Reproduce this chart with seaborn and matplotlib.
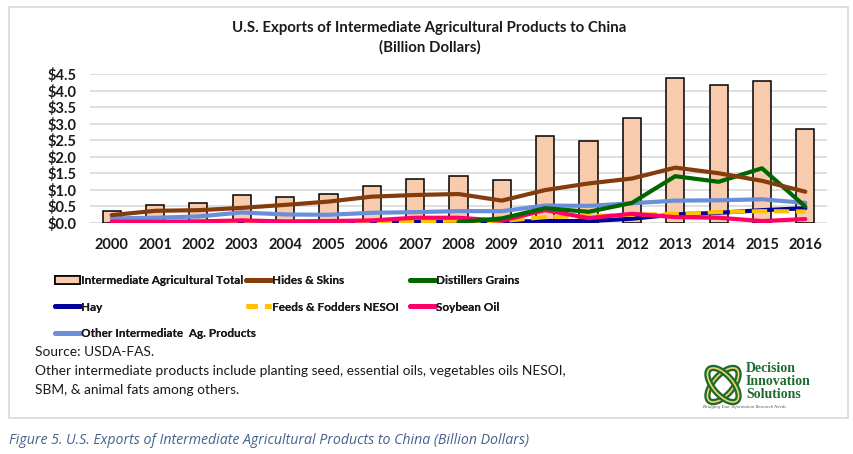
import matplotlib
matplotlib.use("Agg")
import matplotlib.pyplot as plt
import numpy as np
import pandas as pd
import seaborn as sns
from matplotlib.lines import Line2D
from matplotlib.patches import Patch, Rectangle, Ellipse

years = [str(y) for y in range(2000, 2017)]

ag_total = [0.36, 0.55, 0.59, 0.83, 0.78, 0.87, 1.12, 1.33, 1.41, 1.29,
            2.64, 2.48, 3.17, 4.38, 4.18, 4.29, 2.85]
hides_skins = [0.23, 0.36, 0.38, 0.45, 0.54, 0.64, 0.79, 0.84, 0.87, 0.67,
               0.99, 1.19, 1.34, 1.67, 1.50, 1.27, 0.94]
distillers = [np.nan, np.nan, np.nan, np.nan, np.nan, np.nan, np.nan, np.nan, 0.02, 0.13,
              0.44, 0.33, 0.60, 1.41, 1.24, 1.65, 0.49]
hay = [0.0, 0.0, 0.0, 0.0, 0.0, 0.0, 0.0, 0.02, 0.03, 0.03,
       0.05, 0.05, 0.12, 0.25, 0.30, 0.38, 0.44]
feeds = [0.01, 0.01, 0.01, 0.02, 0.02, 0.02, 0.03, 0.05, 0.06, 0.05,
         0.17, 0.20, 0.24, 0.27, 0.32, 0.35, 0.34]
soybean_oil = [0.03, 0.03, 0.04, 0.07, 0.04, 0.05, 0.07, 0.15, 0.15, 0.06,
               0.38, 0.14, 0.27, 0.17, 0.15, 0.05, 0.11]
other_inter = [0.13, 0.15, 0.19, 0.31, 0.25, 0.24, 0.30, 0.32, 0.35, 0.35,
               0.52, 0.51, 0.59, 0.67, 0.68, 0.71, 0.60]

y_ticks = [0.0, 0.5, 1.0, 1.5, 2.0, 2.5, 3.0, 3.5, 4.0, 4.5]

series = [
    ("Hides & Skins", hides_skins, "#843C0C", "-"),
    ("Distillers Grains", distillers, "#006600", "-"),
    ("Hay", hay, "#000099", "-"),
    ("Feeds & Fodders NESOI", feeds, "#FFC000", "--"),
    ("Soybean Oil", soybean_oil, "#FF0066", "-"),
    ("Other Intermediate  Ag. Products", other_inter, "#6A8FD8", "-"),
]
# draw order (bottom to top) roughly as in the reference
draw_order = ["Other Intermediate  Ag. Products", "Hay", "Feeds & Fodders NESOI",
              "Soybean Oil", "Distillers Grains", "Hides & Skins"]

sns.set_theme(style="white")
plt.rcParams["font.family"] = ["Lato", "DejaVu Sans"]

fig = plt.figure(figsize=(8.54, 4.54), dpi=100)
ax = fig.add_axes([90 / 854, 1 - 222.7 / 454, 737 / 854, (222.7 - 74.3) / 454])

bars_df = pd.DataFrame({"year": years, "value": ag_total})
sns.barplot(data=bars_df, x="year", y="value", color="#F8CBAD", edgecolor="black",
            linewidth=1.1, width=0.42, saturation=1, ax=ax, zorder=2)

x_pos = np.arange(len(years))
lookup = {s[0]: s for s in series}
for z, name in enumerate(draw_order):
    _, vals, col, ls = lookup[name]
    sns.lineplot(x=x_pos, y=vals, color=col, linestyle=ls, linewidth=3,
                 ax=ax, zorder=3 + z, legend=False)

ax.set_xlim(-0.5, len(years) - 0.5)
ax.set_ylim(0, 4.5)
ax.set_yticks(y_ticks)
ax.set_yticklabels([f"${v:.1f}" for v in y_ticks])
ax.yaxis.grid(True, color="#D9D9D9", linewidth=1.2, zorder=0)
ax.set_axisbelow(True)
for sp in ax.spines.values():
    sp.set_visible(False)
ax.set_xlabel("")
ax.set_ylabel("")
ax.tick_params(axis="y", length=0, pad=10, labelsize=10.5)
ax.tick_params(axis="x", length=0, pad=11, labelsize=10.5)
for lab in ax.get_xticklabels() + ax.get_yticklabels():
    lab.set_fontweight("bold")
    lab.set_color("#1a1a1a")

fig.text(0.503, 1 - 28 / 454, "U.S. Exports of Intermediate Agricultural Products to China",
         ha="center", va="center", fontsize=10.8, fontweight="bold", color="#1a1a1a")
fig.text(0.503, 1 - 47 / 454, "(Billion Dollars)", ha="center", va="center",
         fontsize=10.8, fontweight="bold", color="#1a1a1a")


def handle_for(name):
    _, vals, col, ls = lookup[name]
    if ls == "--":
        return Line2D([], [], color=col, linewidth=3.5, dashes=(2.3, 1.5))
    return Line2D([], [], color=col, linestyle=ls, linewidth=3.5)


bar_handle = Patch(facecolor="#F8CBAD", edgecolor="black", linewidth=1.2)
columns = [
    (55, [(bar_handle, "Intermediate Agricultural Total"), (handle_for("Hay"), "Hay"),
          (handle_for("Other Intermediate  Ag. Products"), "Other Intermediate  Ag. Products")]),
    (246, [(handle_for("Hides & Skins"), "Hides & Skins"),
           (handle_for("Feeds & Fodders NESOI"), "Feeds & Fodders NESOI")]),
    (410, [(handle_for("Distillers Grains"), "Distillers Grains"),
           (handle_for("Soybean Oil"), "Soybean Oil")]),
]
for x0, entries in columns:
    leg = fig.legend([e[0] for e in entries], [e[1] for e in entries],
                     loc="upper left", bbox_to_anchor=(x0 / 854, 1 - 275 / 454),
                     frameon=False, handlelength=2.1, handletextpad=0.12,
                     labelspacing=1.32, borderpad=0, borderaxespad=0,
                     prop={"weight": "bold", "size": 8.5})
    for t in leg.get_texts():
        t.set_color("#1a1a1a")
    fig.add_artist(leg)

notes = ["Source: USDA-FAS.",
         "Other intermediate products include planting seed, essential oils, vegetables oils NESOI,",
         "SBM, & animal fats among others."]
for i, line in enumerate(notes):
    fig.text(35 / 854, 1 - (352 + i * 19) / 454, line, ha="left", va="center",
             fontsize=9.9, color="#1a1a1a")

# outer frame of the chart box
fig.add_artist(Rectangle((9 / 854, 1 - 418 / 454), 839 / 854, 411 / 454,
                         transform=fig.transFigure, fill=False, edgecolor="#D9D9D9",
                         linewidth=1.2))

# simple logo
logo = fig.add_axes([702 / 854, 1 - 408 / 454, 42 / 854, 46 / 454])
logo.set_xlim(0, 1)
logo.set_ylim(0, 1)
logo.axis("off")
for ang in (45, -45):
    logo.add_patch(Ellipse((0.5, 0.5), 0.95, 0.45, angle=ang, fill=False,
                           edgecolor="#1E6B2E", linewidth=4.5))
    logo.add_patch(Ellipse((0.5, 0.5), 0.95, 0.45, angle=ang, fill=False,
                           edgecolor="#F2D36B", linewidth=1.2))
for i, word in enumerate(["Decision", "Innovation", "Solutions"]):
    fig.text(746 / 854, 1 - (368 + i * 13.5) / 454, word, ha="left", va="center",
             fontsize=10, fontweight="bold", color="#1E6B2E",
             family=["Liberation Serif", "DejaVu Serif"])
fig.text(703 / 854, 1 - 407 / 454, "Bridging Your Information Research Needs",
         ha="left", va="center", fontsize=3.4, style="italic", color="#555555",
         family=["Liberation Serif", "DejaVu Serif"])

fig.text(9 / 854, 1 - 440 / 454,
         "Figure 5. U.S. Exports of Intermediate Agricultural Products to China (Billion Dollars)",
         ha="left", va="center", fontsize=10.2, style="italic", color="#44628F",
         family=["Open Sans", "DejaVu Sans"])

fig.savefig("out.png", dpi=100, facecolor="white")
